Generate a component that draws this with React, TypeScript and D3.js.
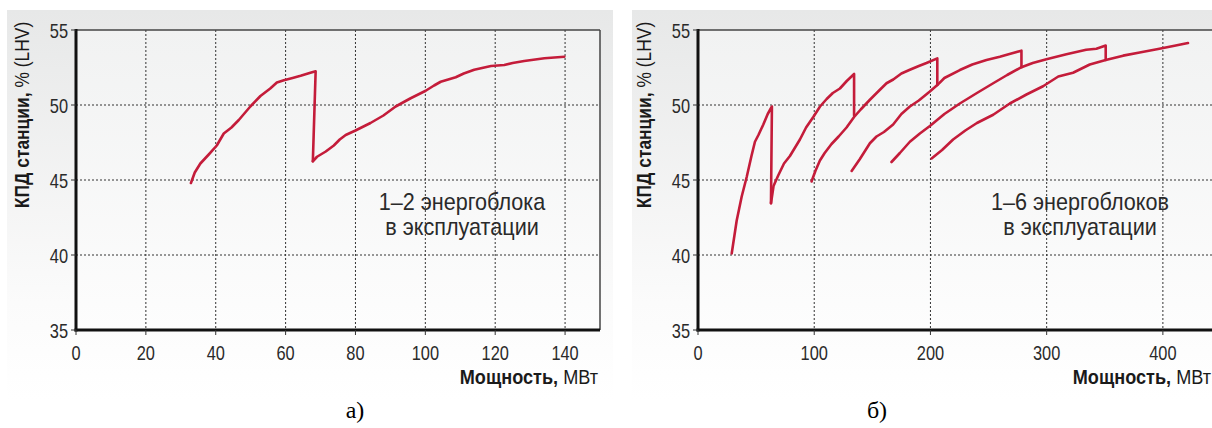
import React from 'react';
import * as d3 from 'd3';

// общие оси
const yTicks = [35, 40, 45, 50, 55];
const yGrid = [40, 45, 50];

// а) 1–2 энергоблока
const xTicksA = [0, 20, 40, 60, 80, 100, 120, 140];
const blockA1 = [
  [32.9, 44.8], [34, 45.5], [35.6, 46.1], [38, 46.7], [40.3, 47.3], [42.3, 48.1],
  [44.5, 48.5], [46.6, 49.0], [49.9, 49.9], [52.8, 50.6], [55.6, 51.1], [57.5, 51.5],
  [59.5, 51.65], [62, 51.8], [64.3, 51.95], [67.1, 52.15], [68.6, 52.25], [67.8, 46.25],
];
const blockA2 = [
  [67.8, 46.25], [69, 46.55], [71.5, 46.9], [73.8, 47.3], [75.5, 47.7], [77.2, 48.0],
  [80, 48.3], [84.3, 48.8], [88, 49.3], [91.5, 49.9], [95.8, 50.45], [100.1, 50.95],
  [102.5, 51.3], [104.4, 51.55], [108.7, 51.85], [111, 52.1], [114, 52.35], [118.8, 52.6],
  [122.6, 52.67], [125, 52.8], [128.3, 52.93], [134.1, 53.12], [139.8, 53.22],
];

// б) 1–6 энергоблоков
const xTicksB = [0, 100, 200, 300, 400];
const blockB1 = [
  [29, 40.1], [33.3, 42.3], [37.6, 43.9], [41.9, 45.2], [46, 46.6], [49, 47.55],
  [52, 48.0], [56.2, 48.7], [60, 49.4], [63.6, 49.9], [62.8, 43.45],
];
const blockB2 = [
  [62.8, 43.45], [65, 44.6], [69, 45.3], [74, 46.1], [79.1, 46.6], [87.7, 47.7],
  [93, 48.5], [99.2, 49.2], [105, 49.9], [110.7, 50.4], [116, 50.8], [122.1, 51.1],
  [128, 51.6], [134.3, 52.07], [134.3, 49.3],
];
const blockB3 = [
  [97.7, 44.9], [101, 45.6], [104.9, 46.3], [109, 46.8], [114.9, 47.4], [121, 47.9],
  [127.8, 48.5], [134.3, 49.2], [140, 49.7], [147.9, 50.35], [155, 50.9], [162.2, 51.45],
  [168, 51.7], [175, 52.1], [182.3, 52.35], [190, 52.6], [196.6, 52.8], [205.9, 53.11],
  [205.9, 51.33],
];
const blockB4 = [
  [132.2, 45.6], [139.3, 46.4], [147.9, 47.45], [153.6, 47.9], [160, 48.2], [167.9, 48.7],
  [175, 49.4], [182.3, 49.9], [190, 50.3], [199.5, 50.9], [205.9, 51.33], [212, 51.8],
  [225.3, 52.33], [236, 52.7], [248.2, 53.0], [259.7, 53.22], [268, 53.4], [278.3, 53.62],
  [278.3, 52.52],
];
const blockB5 = [
  [166.5, 46.2], [173.7, 46.8], [182.3, 47.55], [190.9, 48.1], [199.5, 48.6], [212, 49.4],
  [225.3, 50.1], [240, 50.8], [254, 51.45], [266, 52.0], [278.3, 52.52], [288, 52.8],
  [299.8, 53.05], [317, 53.38], [334, 53.68], [342.8, 53.75], [350.8, 53.96], [350.8, 53.0],
];
const blockB6 = [
  [201, 46.44], [210, 47.0], [219.5, 47.7], [230, 48.3], [240, 48.8], [254, 49.35],
  [268.3, 50.1], [282.6, 50.7], [296.9, 51.25], [310, 51.9], [322.7, 52.15], [337.1, 52.7],
  [350.8, 53.0], [365.8, 53.29], [380, 53.5], [395.9, 53.73], [410, 53.95], [421.6, 54.13],
];

const RED = '#c41c3a';
const FONT = '"Liberation Sans", Arial, sans-serif';

// узкий шрифт в оригинале — сжимаем по горизонтали
function T({ x, y, sx = 0.84, anchor = 'middle', size = 19, rotate = 0, fill = '#2a2a2a', children }) {
  return (
    <text transform={`translate(${x},${y}) rotate(${rotate}) scale(${sx},1)`} textAnchor={anchor}
      fontFamily={FONT} fontSize={size} fill={fill}>{children}</text>
  );
}

function Panel({ id, bgX, bgW, x0, x1, xMax, xTicks, series, note, noteX, letter, letterX, titleX }) {
  const x = d3.scaleLinear().domain([0, xMax]).range([x0, x1]);
  const y = d3.scaleLinear().domain([35, 55]).range([330, 30]);
  const line = d3.line<number[]>().x(d => x(d[0])).y(d => y(d[1]));

  return (
    <g>
      <defs>
        <linearGradient id={id + '-bg'} x1="0" y1="0" x2="0" y2="1">
          <stop offset="0" stopColor="#e7e8e8" />
          <stop offset="0.75" stopColor="#fbfbfb" />
          <stop offset="1" stopColor="#ffffff" />
        </linearGradient>
        <linearGradient id={id + '-plot'} x1="0" y1="0" x2="0" y2="1">
          <stop offset="0" stopColor="#f1f2f2" />
          <stop offset="1" stopColor="#fdfdfd" />
        </linearGradient>
      </defs>
      <rect x={bgX} y={10} width={bgW} height={390} fill={`url(#${id}-bg)`} />
      <rect x={x0} y={y(55)} width={x1 - x0} height={y(35) - y(55)} fill={`url(#${id}-plot)`} />

      {xTicks.filter(t => t > 0).map(t => (
        <line key={'gx' + t} x1={x(t)} x2={x(t)} y1={y(55)} y2={y(35)}
          stroke="#333" strokeWidth={1} strokeDasharray="2,2" />
      ))}
      {yGrid.map(t => (
        <line key={'gy' + t} x1={x0} x2={x1} y1={y(t)} y2={y(t)}
          stroke="#333" strokeWidth={1} strokeDasharray="2,2" />
      ))}

      {/* рамка */}
      <line x1={x0} x2={x1} y1={y(55)} y2={y(55)} stroke="#444" strokeWidth={1.5} />
      <line x1={x1} x2={x1} y1={y(55)} y2={y(35)} stroke="#444" strokeWidth={1.5} />

      {series.map((s, i) => (
        <path key={i} d={line(s) || ''} fill="none" stroke={RED} strokeWidth={2.6}
          strokeLinejoin="round" strokeLinecap="round" />
      ))}

      <line x1={x0} x2={x0} y1={y(55) - 1} y2={y(35) + 1.5} stroke="#111" strokeWidth={3} />
      <line x1={x0 - 1.5} x2={x1} y1={y(35)} y2={y(35)} stroke="#111" strokeWidth={3} />

      {xTicks.map(t => (
        <g key={'tx' + t}>
          <line x1={x(t)} x2={x(t)} y1={y(35)} y2={y(35) + 5} stroke="#333" strokeWidth={1} />
          <T x={x(t)} y={359.5} size={20} sx={0.82}>{t}</T>
        </g>
      ))}
      {yTicks.map(t => (
        <g key={'ty' + t}>
          <line x1={x0 - 5} x2={x0} y1={y(t)} y2={y(t)} stroke="#333" strokeWidth={1} />
          <T x={x0 - 8} y={y(t) + 7.5} anchor="end" size={20} sx={0.82}>{t}</T>
        </g>
      ))}

      <T x={x0 - 47} y={115} rotate={-90} sx={0.83} size={21} fill="#1a1a1a">
        <tspan fontWeight="bold">КПД станции,</tspan>
        <tspan> % (LHV)</tspan>
      </T>

      <T x={titleX} y={384} anchor="end" sx={0.93} size={19.5} fill="#1a1a1a">
        <tspan fontWeight="bold">Мощность,</tspan>
        <tspan> МВт</tspan>
      </T>

      <T x={noteX} y={210} sx={0.9} size={24}>{note}</T>
      <T x={noteX} y={235} sx={0.9} size={24}>в эксплуатации</T>

      <text x={letterX} y={418} textAnchor="middle" fontFamily='"Liberation Serif", "Times New Roman", serif'
        fontSize={24} fill="#000">{letter}</text>
    </g>
  );
}

export default function App() {
  return (
    <svg width={1212} height={428} style={{ position: 'absolute', left: 0, top: 0, background: '#fff' }}>
      <Panel id="a" bgX={7} bgW={606} x0={76} x1={600} xMax={150} xTicks={xTicksA}
        series={[blockA1, blockA2]} note="1–2 энергоблока" noteX={462}
        letter="а)" letterX={355} titleX={598} />
      <Panel id="b" bgX={632} bgW={600} x0={698} x1={1221} xMax={450} xTicks={xTicksB}
        series={[blockB1, blockB2, blockB3, blockB4, blockB5, blockB6]} note="1–6 энергоблоков" noteX={1080}
        letter="б)" letterX={877} titleX={1211} />
    </svg>
  );
}
